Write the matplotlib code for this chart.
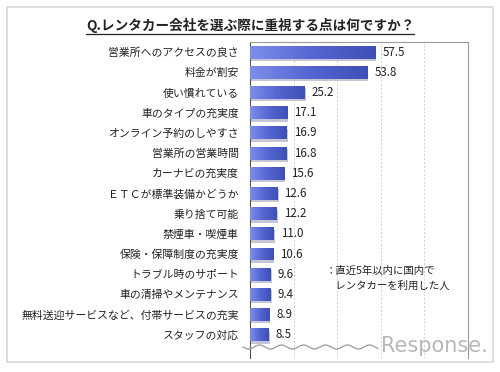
import numpy as np
import matplotlib
matplotlib.use("Agg")
import matplotlib.pyplot as plt
from matplotlib.patches import Rectangle

plt.rcParams["font.family"] = ["Noto Sans CJK JP", "DejaVu Sans"]

# ── Data ──────────────────────────────────────────────────────────────
items = [
    "営業所へのアクセスの良さ",
    "料金が割安",
    "使い慣れている",
    "車のタイプの充実度",
    "オンライン予約のしやすさ",
    "営業所の営業時間",
    "カーナビの充実度",
    "ＥＴＣが標準装備かどうか",
    "乗り捨て可能",
    "禁煙車・喫煙車",
    "保険・保障制度の充実度",
    "トラブル時のサポート",
    "車の清掃やメンテナンス",
    "無料送迎サービスなど、付帯サービスの充実",
    "スタッフの対応",
]
values = [57.5, 53.8, 25.2, 17.1, 16.9, 16.8, 15.6, 12.6, 12.2, 11.0,
          10.6, 9.6, 9.4, 8.9, 8.5]

title = "Q.レンタカー会社を選ぶ際に重視する点は何ですか？"
note = "：直近5年以内に国内で\n　レンタカーを利用した人"

W, H = 500, 372
fig = plt.figure(figsize=(W / 100, H / 100), dpi=100)
fig.patch.set_facecolor("white")

# outer frame
fig.patches.append(Rectangle((7 / W, 1 - 362 / H), 486 / W, 355 / H,
                             transform=fig.transFigure, fill=False,
                             edgecolor="#d8d8d8", linewidth=1.2))

ax = fig.add_axes([250 / W, 1 - 358 / H, 218 / W, 316 / H])
n = len(values)
y = np.arange(n)
bars = ax.barh(y, values, height=0.64, color="none", edgecolor="none", zorder=3)

# gradient fill + soft shadow for each bar
grad = np.linspace(0, 1, 256).reshape(1, -1)
cmap = matplotlib.colors.LinearSegmentedColormap.from_list(
    "bar", ["#7d8ee9", "#5566d2", "#3e4fb6"])
for b in bars:
    x0, yb = b.get_x(), b.get_y()
    w, h = b.get_width(), b.get_height()
    ax.add_patch(Rectangle((x0 + 0.5, yb + 0.12), w, h, facecolor="#c4c6d6",
                           edgecolor="none", zorder=2))
    im = ax.imshow(grad, extent=(x0, x0 + w, yb + h, yb), aspect="auto",
                   cmap=cmap, zorder=3, interpolation="bilinear")
    im.set_clip_path(b)

for yi, v in zip(y, values):
    ax.text(v + 3.2, yi, f"{v:.1f}", va="center", ha="left", fontsize=8.3,
            color="#222222", zorder=4)

ax.set_xlim(0, 100)
ax.set_ylim(n - 1 + 1.15, -0.5)
ax.set_xticks([20, 40, 60, 80])
ax.xaxis.grid(True, linestyle=(0, (2, 2)), color="#d0d0d0", linewidth=0.7)
ax.set_axisbelow(True)
ax.tick_params(axis="x", length=0, labelbottom=False)
ax.set_yticks(y)
ax.set_yticklabels(items, fontsize=7.8, color="#222222")
ax.tick_params(axis="y", length=0, pad=8)
for s in ["top", "right"]:
    ax.spines[s].set_color("#9a9a9a")
ax.spines["left"].set_color("#555555")
ax.spines["bottom"].set_visible(False)
for s in ax.spines.values():
    s.set_linewidth(0.8)

ax.text(0.345, 0.292, note, transform=ax.transAxes, fontsize=7.5,
        color="#222222", va="top", ha="left", linespacing=1.6)

# title
fig.text(0.5, 1 - 25 / H, title, ha="center", va="center",
         fontsize=9.8, fontweight="bold", color="#222222")
fig.add_artist(plt.Line2D([86 / W, 414 / W], [1 - 34 / H, 1 - 34 / H],
                          color="#222222", linewidth=0.9))

# wavy break line
wx = np.linspace(243, 378, 300)
wy = 347 + 2.0 * np.sin((wx - 243) / 22 * 2 * np.pi)
fig.add_artist(plt.Line2D(wx / W, 1 - wy / H, color="#9a9a9a", linewidth=0.9))

# watermark
fig.text(488 / W, 1 - 346 / H, "Response.", ha="right", va="center",
         fontsize=15, color="#b0b0b0", family="DejaVu Sans", alpha=0.9)

fig.savefig("out.png", dpi=100)
